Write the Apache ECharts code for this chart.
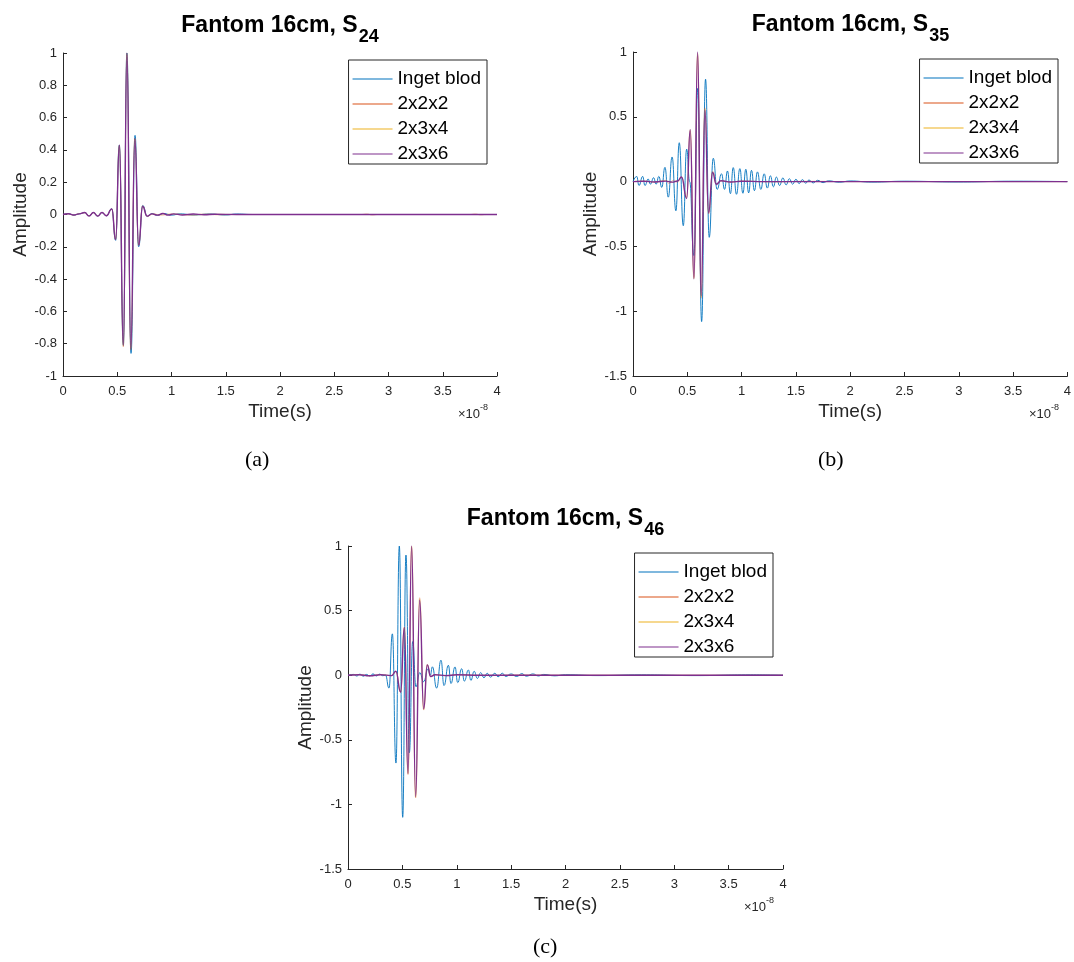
<!DOCTYPE html>
<html>
<head>
<meta charset="utf-8">
<script src="https://cdn.jsdelivr.net/npm/echarts@6/dist/echarts.min.js"></script>
<style>
html,body{margin:0;padding:0;background:#fff;}
#chart{width:1074px;height:962px;}
</style>
</head>
<body>
<div id="chart"></div>
<script>
// ---- data: time in units of 1e-8 s, amplitude ----
const seriesNames = ['Inget blod', '2x2x2', '2x3x4', '2x3x6'];
const xTicks = [0, 0.5, 1, 1.5, 2, 2.5, 3, 3.5, 4];
const panelTitles = ['24', '35', '46'];
const panelLabels = ['(a)', '(b)', '(c)'];

// (a) S24
const aInget = [[0,0],[0.05,0.005],[0.1,-0.004],[0.15,0.004],[0.203,0.012],[0.24,-0.008],[0.28,0.012],[0.32,-0.01],[0.357,0.012],[0.40,-0.008],[0.449,0.035],[0.485,-0.16],[0.519,0.43],[0.556,-0.81],[0.589,1.0],[0.627,-0.86],[0.664,0.49],[0.697,-0.2],[0.735,0.056],[0.777,-0.012],[0.82,0.006],[0.87,-0.005],[0.93,0.006],[1.0,-0.004],[1.08,0.004],[1.2,-0.003],[1.35,0.003],[1.5,-0.003],[1.6,0.003],[1.75,0],[4,0]];
const a222 = [[0,0],[0.05,0.004],[0.1,-0.004],[0.15,0.005],[0.203,0.011],[0.24,-0.008],[0.28,0.011],[0.32,-0.009],[0.357,0.012],[0.40,-0.007],[0.449,0.034],[0.485,-0.155],[0.519,0.425],[0.556,-0.82],[0.589,0.99],[0.625,-0.84],[0.662,0.47],[0.697,-0.19],[0.734,0.055],[0.776,-0.012],[0.83,0.004],[0.9,-0.004],[1.0,0.003],[1.2,-0.004],[1.3,0.004],[1.45,-0.003],[1.6,0],[2.75,0],[2.8,0.004],[2.85,-0.004],[2.9,0],[3.75,0],[3.8,0.004],[3.85,-0.003],[3.9,0],[4,0]];
const a234 = [[0,0],[0.05,0.004],[0.1,-0.004],[0.15,0.005],[0.203,0.011],[0.24,-0.008],[0.28,0.011],[0.32,-0.009],[0.357,0.012],[0.40,-0.007],[0.449,0.034],[0.485,-0.155],[0.519,0.43],[0.556,-0.815],[0.589,1.0],[0.625,-0.83],[0.662,0.47],[0.697,-0.19],[0.734,0.052],[0.776,-0.011],[0.83,0.003],[0.9,-0.003],[1.0,0.003],[1.2,-0.003],[1.4,0.002],[1.6,0],[4,0]];
const a236 = [[0,0],[0.05,0.005],[0.1,-0.003],[0.15,0.004],[0.2,0.012],[0.24,-0.01],[0.28,0.012],[0.32,-0.01],[0.36,0.012],[0.40,-0.008],[0.45,0.035],[0.485,-0.155],[0.52,0.43],[0.556,-0.81],[0.589,1.0],[0.625,-0.83],[0.662,0.47],[0.697,-0.19],[0.734,0.05],[0.775,-0.01],[0.82,0.004],[0.87,-0.004],[0.92,0.006],[0.97,-0.004],[1.02,0.004],[1.1,-0.003],[1.2,0.003],[1.3,-0.002],[1.4,0.002],[1.6,0],[4,0]];

// (b) S35
const bInget = [[0,0],[0.034,0.04],[0.055,-0.03],[0.089,0.04],[0.11,-0.03],[0.14,0.02],[0.16,-0.02],[0.19,0.03],[0.213,-0.02],[0.238,0.04],[0.265,-0.045],[0.294,0.11],[0.325,-0.12],[0.36,0.19],[0.395,-0.225],[0.426,0.30],[0.463,-0.34],[0.494,0.25],[0.522,0.0],[0.56,-0.57],[0.597,0.72],[0.632,-1.08],[0.668,0.79],[0.702,-0.43],[0.739,0.18],[0.775,-0.06],[0.815,0.06],[0.843,-0.06],[0.87,0.082],[0.897,-0.093],[0.923,0.108],[0.953,-0.098],[0.984,0.10],[1.012,-0.09],[1.039,0.095],[1.065,-0.087],[1.091,0.087],[1.118,-0.07],[1.146,0.075],[1.177,-0.06],[1.208,0.06],[1.237,-0.05],[1.265,0.045],[1.293,-0.04],[1.32,0.035],[1.35,-0.03],[1.38,0.028],[1.41,-0.025],[1.44,0.022],[1.47,-0.02],[1.50,0.018],[1.53,-0.015],[1.56,0.015],[1.59,-0.012],[1.62,0.012],[1.66,-0.01],[1.7,0.01],[1.75,-0.008],[1.8,0.006],[1.9,-0.005],[2.0,0.005],[2.2,-0.004],[2.5,0.003],[3.0,-0.003],[3.5,0.003],[4,0]];
const b222 = [[0,0],[0.1,0.004],[0.2,-0.004],[0.3,0.01],[0.33,-0.015],[0.37,0.01],[0.41,-0.006],[0.447,0.035],[0.494,-0.12],[0.527,0.39],[0.561,-0.74],[0.595,0.97],[0.628,-0.9],[0.662,0.57],[0.697,-0.25],[0.735,0.08],[0.77,-0.02],[0.81,0.006],[0.9,-0.004],[1.0,0.004],[1.3,-0.003],[1.6,0.003],[2.0,0],[4,0]];
const b234 = [[0,0],[0.1,0.003],[0.2,-0.003],[0.3,0.006],[0.36,-0.005],[0.41,0.005],[0.447,0.035],[0.494,-0.125],[0.527,0.40],[0.561,-0.75],[0.595,0.99],[0.628,-0.89],[0.662,0.56],[0.696,-0.24],[0.733,0.075],[0.767,-0.02],[0.81,0.005],[0.9,-0.003],[1.0,0.003],[1.2,0],[4,0]];
const b236 = [[0,0],[0.1,0.003],[0.2,-0.003],[0.3,0.004],[0.36,-0.004],[0.41,0.005],[0.447,0.035],[0.494,-0.13],[0.527,0.40],[0.561,-0.75],[0.595,1.0],[0.628,-0.88],[0.662,0.55],[0.696,-0.24],[0.733,0.07],[0.767,-0.02],[0.81,0.006],[0.9,-0.003],[1.0,0.003],[1.2,0],[4,0]];

// (c) S46
const cInget = [[0,0],[0.05,0.006],[0.08,-0.006],[0.11,0.008],[0.14,-0.008],[0.17,0.006],[0.2,-0.006],[0.23,0.01],[0.26,-0.006],[0.29,0.008],[0.32,-0.004],[0.345,0.0],[0.377,-0.10],[0.408,0.32],[0.441,-0.68],[0.472,1.0],[0.503,-1.10],[0.533,0.93],[0.564,-0.60],[0.595,0.26],[0.625,-0.09],[0.66,0.02],[0.695,-0.05],[0.737,0.05],[0.757,0.0],[0.776,0.065],[0.815,-0.10],[0.855,0.116],[0.883,-0.08],[0.923,0.077],[0.947,-0.064],[0.984,0.064],[1.009,-0.057],[1.045,0.05],[1.07,-0.046],[1.107,0.04],[1.13,-0.04],[1.16,0.03],[1.19,-0.025],[1.22,0.02],[1.25,-0.02],[1.28,0.015],[1.31,-0.015],[1.35,0.015],[1.38,-0.012],[1.42,0.015],[1.45,-0.01],[1.5,0.01],[1.55,-0.01],[1.6,0.012],[1.64,-0.008],[1.7,0.01],[1.75,-0.006],[1.8,0.006],[1.9,-0.005],[2.0,0.004],[2.3,-0.003],[2.7,0.003],[3.2,-0.003],[3.7,0.003],[4,0]];
const c222 = [[0,0],[0.1,0.005],[0.2,-0.005],[0.3,0.005],[0.4,-0.004],[0.44,0.03],[0.484,-0.135],[0.518,0.37],[0.552,-0.77],[0.585,0.99],[0.622,-0.95],[0.659,0.60],[0.696,-0.27],[0.729,0.085],[0.76,-0.012],[0.8,0.005],[0.9,-0.004],[1.0,0.004],[1.3,-0.003],[1.6,0.003],[2.0,0],[4,0]];
const c234 = [[0,0],[0.1,0.004],[0.2,-0.004],[0.3,0.004],[0.4,-0.003],[0.44,0.03],[0.484,-0.13],[0.518,0.37],[0.552,-0.76],[0.585,1.0],[0.622,-0.945],[0.659,0.59],[0.696,-0.265],[0.729,0.08],[0.76,-0.01],[0.8,0.004],[0.9,-0.003],[1.0,0.003],[1.2,0],[4,0]];
const c236 = [[0,0],[0.1,0.004],[0.2,-0.004],[0.3,0.004],[0.4,-0.003],[0.44,0.03],[0.484,-0.13],[0.518,0.37],[0.552,-0.76],[0.585,1.0],[0.622,-0.94],[0.659,0.58],[0.696,-0.26],[0.729,0.08],[0.76,-0.01],[0.8,0.004],[0.9,-0.003],[1.0,0.003],[1.2,0],[4,0]];

const panelData = [[aInget, a222, a234, a236], [bInget, b222, b234, b236], [cInget, c222, c234, c236]];
const yRanges = [{min: -1, max: 1, interval: 0.2}, {min: -1.5, max: 1, interval: 0.5}, {min: -1.5, max: 1, interval: 0.5}];

// ---- layout / style ----
const colors = ['#0072BD', '#D95319', '#EDB120', '#7E2F8E'];
const widths = [0.9, 0.6, 0.6, 1.4];
const opacities = [1, 0.5, 0.5, 1];
const FONT = 'Liberation Sans, Arial, Helvetica, sans-serif';
const AX = '#262626';
const grids = [
  {left: 63, top: 53, width: 434, height: 323},
  {left: 633, top: 52, width: 435, height: 324},
  {left: 348, top: 546, width: 435, height: 323}
];

const option = {
  backgroundColor: '#fff',
  animation: false,
  color: colors,
  grid: grids.map(g => Object.assign({}, g, {containLabel: false})),
  title: grids.map((g, i) => ({
    text: '{a|Fantom 16cm, S}{b|' + panelTitles[i] + '}',
    left: g.left + g.width / 2,
    top: g.top - 39,
    textAlign: 'center',
    padding: 0,
    textStyle: {
      rich: {
        a: {fontFamily: FONT, fontSize: 23, fontWeight: 'bold', color: '#000', lineHeight: 26, verticalAlign: 'top'},
        b: {fontFamily: FONT, fontSize: 18, fontWeight: 'bold', color: '#000', lineHeight: 18, padding: [14, 0, 0, 1], verticalAlign: 'top'}
      }
    }
  })),
  legend: grids.map(g => ({
    data: seriesNames,
    orient: 'vertical',
    right: 1074 - (g.left + g.width) + 10,
    top: g.top + 7,
    icon: 'rect',
    itemWidth: 40,
    itemHeight: 1.2,
    itemGap: 5,
    padding: [9, 6, 0, 4],
    borderColor: AX,
    borderWidth: 1,
    backgroundColor: '#fff',
    selectedMode: false,
    textStyle: {fontFamily: FONT, fontSize: 19, color: '#000', lineHeight: 20, padding: [0, 0, 0, 0]}
  })),
  xAxis: grids.map((g, i) => ({
    type: 'value', gridIndex: i, min: 0, max: 4, interval: 0.5,
    name: 'Time(s)', nameLocation: 'middle', nameGap: 26,
    nameTextStyle: {fontFamily: FONT, fontSize: 19, color: AX},
    axisLine: {show: true, onZero: false, lineStyle: {color: AX, width: 1}},
    axisTick: {show: true, inside: true, length: 4, lineStyle: {color: AX}},
    axisLabel: {fontFamily: FONT, fontSize: 13, color: AX, margin: 9, formatter: v => String(+v.toFixed(1))},
    splitLine: {show: false}
  })),
  yAxis: grids.map((g, i) => ({
    type: 'value', gridIndex: i, min: yRanges[i].min, max: yRanges[i].max, interval: yRanges[i].interval,
    name: 'Amplitude', nameLocation: 'middle', nameGap: 31, nameRotate: 90,
    nameTextStyle: {fontFamily: FONT, fontSize: 19, color: AX},
    axisLine: {show: true, onZero: false, lineStyle: {color: AX, width: 1}},
    axisTick: {show: true, inside: true, length: 4, lineStyle: {color: AX}},
    axisLabel: {fontFamily: FONT, fontSize: 13, color: AX, margin: 6, formatter: v => String(+v.toFixed(1))},
    splitLine: {show: false}
  })),
  series: [],
  graphic: []
};

panelData.forEach((list, i) => {
  list.forEach((d, k) => {
    option.series.push({
      type: 'line', name: seriesNames[k], xAxisIndex: i, yAxisIndex: i,
      data: d, showSymbol: false, symbol: 'none', smooth: 0.5, smoothMonotone: 'x',
      color: colors[k], lineStyle: {width: widths[k], color: colors[k], opacity: opacities[k]}, clip: true, z: 2 + k
    });
  });
});

// subfigure labels and exponent markers
const capPos = [[262, 462], [835, 462], [550, 949]];
capPos.forEach((p, i) => {
  option.graphic.push({
    type: 'text', left: p[0] - 17, top: p[1] - 13,
    style: {text: panelLabels[i], font: '22px "Liberation Serif", "DejaVu Serif", serif', fill: '#000'}
  });
});
grids.forEach(g => {
  option.graphic.push({
    type: 'text', left: g.left + g.width - 39, top: g.top + g.height + 27,
    style: {
      text: '{x|×10}{s|-8}',
      rich: {
        x: {fontFamily: FONT, fontSize: 13, fill: AX, color: AX, verticalAlign: 'bottom', lineHeight: 18},
        s: {fontFamily: FONT, fontSize: 9, fill: AX, color: AX, verticalAlign: 'top', lineHeight: 10}
      }
    }
  });
});

const chart = echarts.init(document.getElementById('chart'), null, {renderer: 'canvas'});
chart.setOption(option);
</script>
</body>
</html>
